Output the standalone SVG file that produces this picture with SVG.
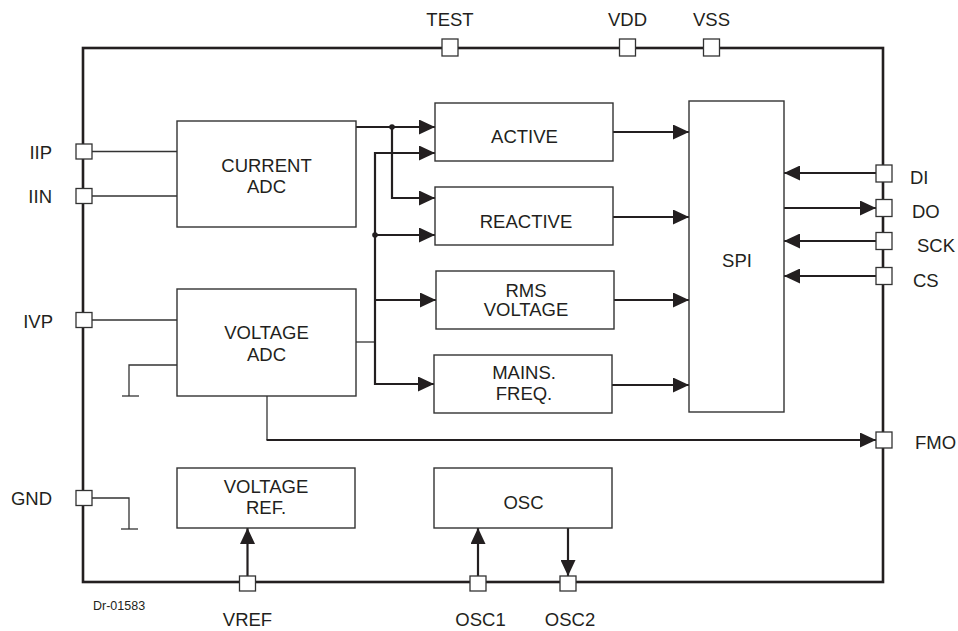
<svg xmlns="http://www.w3.org/2000/svg" width="958" height="631" viewBox="0 0 958 631">
<style>
text{font-family:"Liberation Sans",Arial,sans-serif;font-size:18.5px;fill:#231f20}
.c{text-anchor:middle}
.e{text-anchor:end}
.box{fill:#fff;stroke:#333;stroke-width:1.4}
.pin{fill:#fff;stroke:#333;stroke-width:1.3}
.frame{fill:none;stroke:#231f20;stroke-width:2.6}
.thin{fill:none;stroke:#333;stroke-width:1.3}
.arr{fill:none;stroke:#231f20;stroke-width:2.2;marker-end:url(#ah)}
.bus{fill:none;stroke:#231f20;stroke-width:2.2}
</style>
<defs>
<marker id="ah" markerUnits="userSpaceOnUse" markerWidth="16" markerHeight="15" viewBox="0 0 16 15" refX="16" refY="7.5" orient="auto">
<path d="M0,0 L16,7.5 L0,15 Z" fill="#231f20"/>
</marker>
</defs>
<rect class="frame" x="83" y="48" width="800" height="534"/>
<g id="connectors">
<line class="thin" x1="92" y1="151.5" x2="177" y2="151.5"/>
<line class="thin" x1="92" y1="196" x2="177" y2="196"/>
<line class="thin" x1="92" y1="320" x2="177" y2="320"/>
<polyline class="thin" points="177,365 129,365 129,396"/>
<line class="thin" x1="122" y1="396" x2="139" y2="396"/>
<polyline class="thin" points="92,498 129,498 129,529"/>
<line class="thin" x1="121" y1="529" x2="138" y2="529"/>
<line class="arr" x1="356" y1="127" x2="435" y2="127"/>
<polyline class="arr" points="392,127 392,198 435,198"/>
<circle cx="392" cy="127" r="2.8" fill="#231f20"/>
<line class="thin" x1="356" y1="342" x2="375" y2="342"/>
<line class="bus" x1="375" y1="152" x2="375" y2="385"/>
<line class="arr" x1="374" y1="153" x2="435" y2="153"/>
<line class="arr" x1="375" y1="235" x2="435" y2="235"/>
<circle cx="375" cy="235" r="2.8" fill="#231f20"/>
<line class="arr" x1="375" y1="300" x2="436" y2="300"/>
<line class="arr" x1="374" y1="384" x2="434" y2="384"/>
<line class="arr" x1="613" y1="132" x2="689" y2="132"/>
<line class="arr" x1="613" y1="217" x2="689" y2="217"/>
<line class="arr" x1="614" y1="300" x2="689" y2="300"/>
<line class="arr" x1="612" y1="385" x2="689" y2="385"/>
<line class="arr" x1="876" y1="173" x2="784" y2="173"/>
<line class="arr" x1="784" y1="208" x2="876" y2="208"/>
<line class="arr" x1="876" y1="241" x2="784" y2="241"/>
<line class="arr" x1="876" y1="276" x2="784" y2="276"/>
<line class="thin" x1="267" y1="396" x2="267" y2="440"/>
<line class="arr" x1="266.5" y1="440" x2="876" y2="440"/>
<line class="arr" x1="247.5" y1="576" x2="247.5" y2="528"/>
<line class="arr" x1="478" y1="576" x2="478" y2="528"/>
<line class="arr" x1="568" y1="528" x2="568" y2="576"/>
</g>
<g id="current-adc"><rect class="box" x="177" y="121" width="179" height="106"/><text class="c" x="266.5" y="172">CURRENT</text><text class="c" x="266.5" y="193">ADC</text></g>
<g id="voltage-adc"><rect class="box" x="177" y="289" width="179" height="107"/><text class="c" x="266.5" y="339">VOLTAGE</text><text class="c" x="266.5" y="361">ADC</text></g>
<g id="voltage-ref"><rect class="box" x="177" y="468" width="178" height="60"/><text class="c" x="266" y="493">VOLTAGE</text><text class="c" x="266" y="514">REF.</text></g>
<g id="osc"><rect class="box" x="434" y="468" width="178" height="60"/><text class="c" x="523.5" y="509">OSC</text></g>
<g id="active"><rect class="box" x="435" y="103" width="178" height="58"/><text class="c" x="524.5" y="143">ACTIVE</text></g>
<g id="reactive"><rect class="box" x="435" y="187" width="178" height="58"/><text class="c" x="526" y="228">REACTIVE</text></g>
<g id="rms-voltage"><rect class="box" x="436" y="271" width="178" height="58"/><text class="c" x="526" y="297">RMS</text><text class="c" x="526" y="316">VOLTAGE</text></g>
<g id="mains-freq"><rect class="box" x="434" y="355" width="178" height="58"/><text class="c" x="524" y="379">MAINS.</text><text class="c" x="524" y="400">FREQ.</text></g>
<g id="spi"><rect class="box" x="689" y="101" width="95" height="311"/><text class="c" x="737" y="267">SPI</text></g>
<g id="pin-test"><rect class="pin" x="442" y="39" width="16" height="17"/><text class="c" x="450" y="26">TEST</text></g>
<g id="pin-vdd"><rect class="pin" x="619.5" y="39" width="16" height="17"/><text class="c" x="627.5" y="26">VDD</text></g>
<g id="pin-vss"><rect class="pin" x="703.5" y="39" width="16" height="17"/><text class="c" x="711.5" y="26">VSS</text></g>
<g id="pin-iip"><rect class="pin" x="76" y="144" width="16" height="15"/><text class="e" x="52" y="159">IIP</text></g>
<g id="pin-iin"><rect class="pin" x="76" y="188.5" width="16" height="15"/><text class="e" x="52" y="203">IIN</text></g>
<g id="pin-ivp"><rect class="pin" x="76" y="312.5" width="16" height="15"/><text class="e" x="53" y="328">IVP</text></g>
<g id="pin-gnd"><rect class="pin" x="76" y="490.5" width="16" height="15"/><text class="e" x="52" y="505">GND</text></g>
<g id="pin-di"><rect class="pin" x="876" y="165" width="16" height="17"/><text x="910" y="184">DI</text></g>
<g id="pin-do"><rect class="pin" x="876" y="199.5" width="16" height="17"/><text x="912" y="218">DO</text></g>
<g id="pin-sck"><rect class="pin" x="876" y="232.5" width="16" height="17"/><text x="917" y="252">SCK</text></g>
<g id="pin-cs"><rect class="pin" x="876" y="267.5" width="16" height="17"/><text x="913" y="287">CS</text></g>
<g id="pin-fmo"><rect class="pin" x="876" y="432" width="16" height="16"/><text x="915" y="449">FMO</text></g>
<g id="pin-vref"><rect class="pin" x="239.5" y="576" width="16" height="15"/><text class="c" x="247.5" y="626">VREF</text></g>
<g id="pin-osc1"><rect class="pin" x="470" y="576" width="16" height="15"/><text class="c" x="480.5" y="626">OSC1</text></g>
<g id="pin-osc2"><rect class="pin" x="560" y="576" width="16" height="15"/><text class="c" x="570" y="626">OSC2</text></g>
<text x="93" y="610" style="font-size:12.5px">Dr-01583</text>
</svg>
